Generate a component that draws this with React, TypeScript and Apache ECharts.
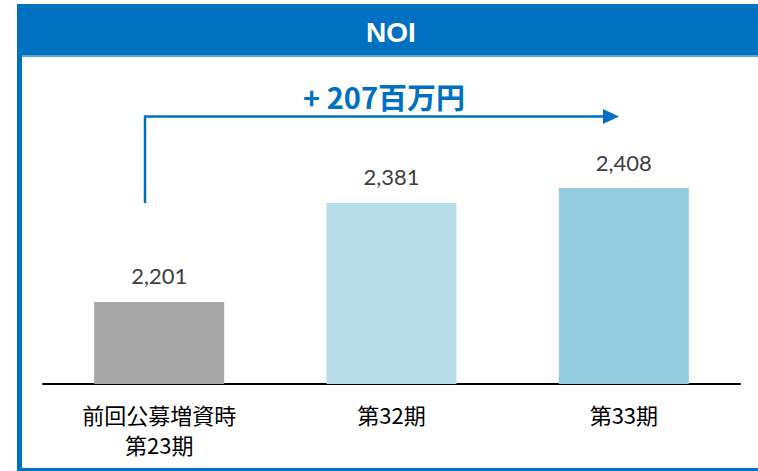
import React, { useEffect, useRef } from "react";
import * as echarts from "echarts";

const categories = ["前回公募増資時\n第23期", "第32期", "第33期"];
const values = [2201, 2381, 2408];
const barColors = ["#A6A6A6", "#B7DEE8", "#93CDDD"];
const title = "NOI";
const unit = "百万円";

const BLUE = "#0070C0";

export default function App() {
  const ref = useRef<HTMLDivElement>(null);
  useEffect(() => {
    if (!ref.current) return;
    const chart = echarts.init(ref.current, undefined, { renderer: "svg" });
    const diff = values[values.length - 1] - values[0];
    chart.setOption({
      animation: false,
      backgroundColor: "#ffffff",
      grid: { left: 43, right: 18, top: 100, bottom: 87, containLabel: false },
      xAxis: {
        type: "category",
        data: categories,
        axisLine: { show: true, lineStyle: { color: "#000000", width: 2 } },
        axisTick: { show: false },
        axisLabel: {
          color: "#000000",
          fontSize: 22,
          lineHeight: 30,
          margin: 15,
          fontFamily: "Noto Sans CJK JP",
          interval: 0,
        },
      },
      yAxis: {
        type: "value",
        min: 2052,
        max: 2568,
        show: false,
        splitLine: { show: false },
      },
      series: [
        {
          type: "bar",
          barWidth: 130,
          data: values.map((v, i) => ({ value: v, itemStyle: { color: barColors[i] } })),
          label: {
            show: true,
            position: "top",
            distance: 15,
            color: "#404040",
            fontSize: 22,
            fontFamily: "Lato",
            formatter: (p: any) => Number(p.value).toLocaleString("en-US"),
          },
        },
      ],
      graphic: [
        { type: "rect", shape: { x: 17, y: 4, width: 760, height: 51 }, style: { fill: BLUE } },
        { type: "rect", shape: { x: 17, y: 55, width: 760, height: 2 }, style: { fill: "#5FA3DA" } },
        { type: "rect", shape: { x: 17, y: 55, width: 5, height: 416 }, style: { fill: BLUE } },
        { type: "rect", shape: { x: 17, y: 468, width: 760, height: 3 }, style: { fill: BLUE } },
        {
          type: "text",
          x: 391,
          y: 32,
          style: {
            text: title,
            fill: "#ffffff",
            font: "bold 28px 'Liberation Sans', sans-serif",
            textAlign: "center",
            textVerticalAlign: "middle",
          },
        },
        {
          type: "text",
          x: 384,
          y: 96,
          style: {
            text: "+ " + diff + unit,
            fill: BLUE,
            font: "bold 29px 'Noto Sans CJK JP'",
            textAlign: "center",
            textVerticalAlign: "middle",
          },
        },
        {
          type: "polyline",
          shape: { points: [[145, 203], [145, 116.5], [605, 116.5]] },
          style: { stroke: BLUE, lineWidth: 2.5, fill: "none" },
        },
        {
          type: "polygon",
          shape: { points: [[603, 109], [619, 116.5], [603, 124]] },
          style: { fill: BLUE },
        },
      ],
    });
    return () => chart.dispose();
  }, []);
  return (
    <div
      ref={ref}
      style={{ position: "fixed", left: 0, top: 0, width: 758, height: 471, background: "#fff" }}
    />
  );
}
